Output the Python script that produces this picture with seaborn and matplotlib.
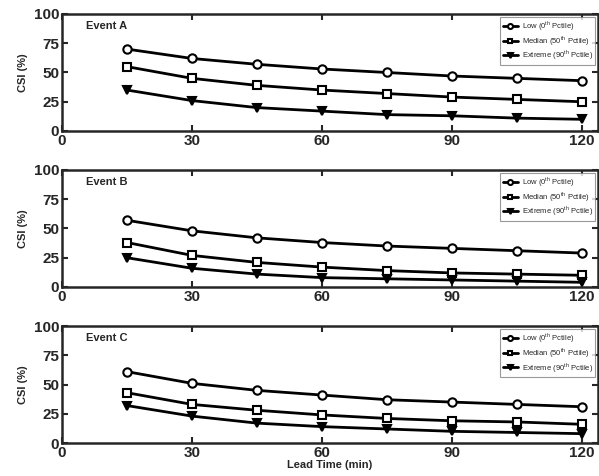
import pandas as pd
import numpy as np
import matplotlib.pyplot as plt
import seaborn as sns

lead_time = [15, 30, 45, 60, 75, 90, 105, 120]
events = ['Event A', 'Event B', 'Event C']
series = ['Low (0$^{\\mathrm{th}}$ Pctile)', 'Median (50$^{\\mathrm{th}}$ Pctile)',
          'Extreme (90$^{\\mathrm{th}}$ Pctile)']

csi_a_low = [70, 62, 57, 53, 50, 47, 45, 43]
csi_a_med = [55, 45, 39, 35, 32, 29, 27, 25]
csi_a_ext = [35, 26, 20, 17, 14, 13, 11, 10]

csi_b_low = [57, 48, 42, 38, 35, 33, 31, 29]
csi_b_med = [38, 27, 21, 17, 14, 12, 11, 10]
csi_b_ext = [25, 16, 11, 8, 7, 6, 5, 4]

csi_c_low = [61, 51, 45, 41, 37, 35, 33, 31]
csi_c_med = [43, 33, 28, 24, 21, 19, 18, 16]
csi_c_ext = [32, 23, 17, 14, 12, 10, 9, 8]

data = {
    'Event A': [csi_a_low, csi_a_med, csi_a_ext],
    'Event B': [csi_b_low, csi_b_med, csi_b_ext],
    'Event C': [csi_c_low, csi_c_med, csi_c_ext],
}

sns.set_style('ticks')
plt.rcParams['font.family'] = ['Liberation Sans', 'DejaVu Sans']
plt.rcParams['mathtext.fontset'] = 'custom'
plt.rcParams['mathtext.rm'] = 'Liberation Sans'

fig = plt.figure(figsize=(5.99, 4.76), dpi=100)
tops = [0.9706, 0.6429, 0.3151]
height = 0.2458
markers = ['o', 's', 'v']
faces = ['white', 'white', 'black']

for i, ev in enumerate(events):
    ax = fig.add_axes([0.1035, tops[i] - height, 0.8945, height])
    for j, lab in enumerate(series):
        df = pd.DataFrame({'x': lead_time, 'y': data[ev][j]})
        sns.lineplot(data=df, x='x', y='y', ax=ax, color='black', lw=2,
                     marker=markers[j], markersize=6, markerfacecolor=faces[j],
                     markeredgecolor='black', markeredgewidth=1.5, label=lab)
    ax.set_xlim(0, 123.7)
    ax.set_ylim(0, 100)
    ax.set_xticks([0, 30, 60, 90, 120])
    ax.set_yticks([0, 25, 50, 75, 100])
    ax.tick_params(direction='in', top=True, right=True, length=4, width=1.5,
                   labelsize=11, pad=2)
    for t in ax.get_xticklabels() + ax.get_yticklabels():
        t.set_fontweight('bold')
    for s in ax.spines.values():
        s.set_linewidth(1.8)
    ax.set_ylabel('CSI (%)', fontsize=8, fontweight='bold', labelpad=4)
    ax.set_xlabel('')
    ax.text(0.045, 0.9, ev, transform=ax.transAxes, fontsize=8, fontweight='bold',
            va='center', ha='left')
    leg = ax.legend(loc='upper right', fontsize=5.5, frameon=True, fancybox=False,
                    borderaxespad=0.35, handlelength=2.0, labelspacing=0.1,
                    borderpad=0.3, markerscale=0.6, handletextpad=0.5)
    leg.get_frame().set_edgecolor('gray')
    leg.get_frame().set_linewidth(0.8)
    if i == 2:
        ax.set_xlabel('Lead Time (min)', fontsize=8, fontweight='bold', labelpad=0)

plt.savefig('out.png', dpi=100)
